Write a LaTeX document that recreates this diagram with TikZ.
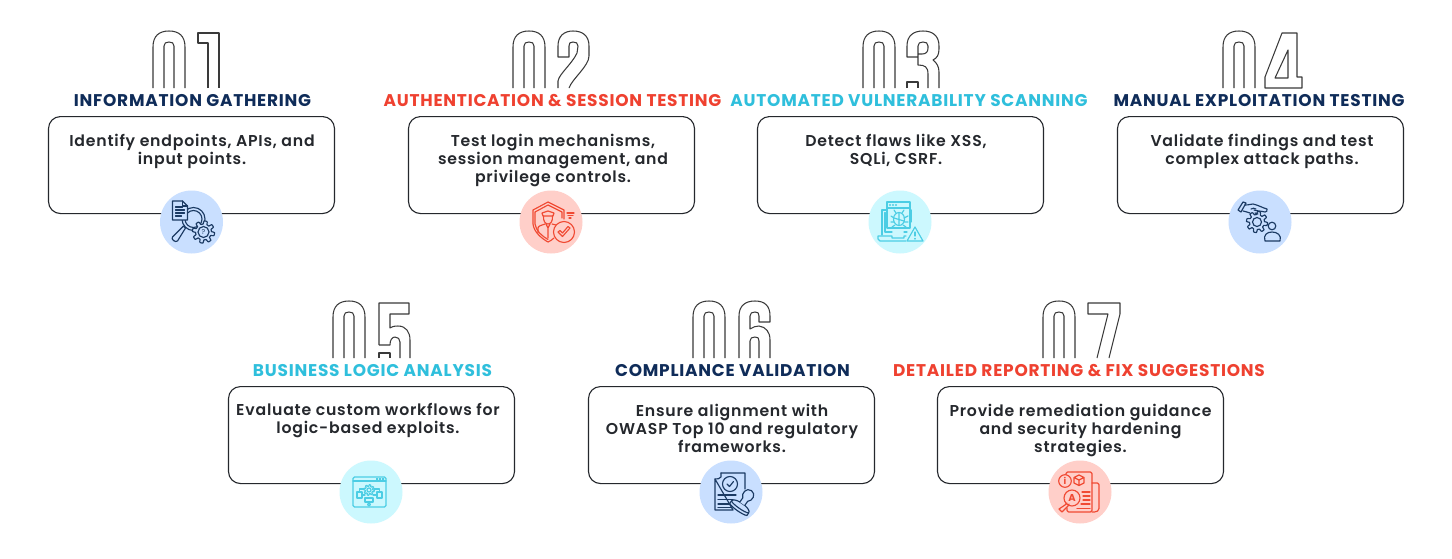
\documentclass[tikz,border=0pt]{standalone}
\usepackage{fontspec}
\setmainfont{Poppins}
\newfontfamily\headf{Poppins}[UprightFont=* Bold,LetterSpace=4.5]
\newfontfamily\bodyf{Poppins}[UprightFont=* SemiBold,LetterSpace=5]
\definecolor{navy}{HTML}{0F2C59}
\definecolor{redh}{HTML}{EF4130}
\definecolor{cyanh}{HTML}{2FBFDC}
\definecolor{bodyc}{HTML}{25282D}
\definecolor{cblue}{HTML}{C9DFFF}
\definecolor{cred}{HTML}{FFCFC9}
\definecolor{ccyan}{HTML}{CCF8FE}
\definecolor{inavy}{HTML}{1B3A63}
\definecolor{ired}{HTML}{F04A33}
\definecolor{icyan}{HTML}{4CCDE4}
\definecolor{numc}{HTML}{3A3A3A}
\tikzset{
  cardbox/.style={draw=bodyc,line width=1.1pt,fill=white,rounded corners=12pt,minimum width=286pt,minimum height=97pt,inner sep=0pt},
  headtext/.style={font=\headf\fontsize{16.95}{18}\selectfont,inner sep=0pt,anchor=base},
  bodytext/.style={font=\bodyf\fontsize{15.7}{18}\selectfont,text=bodyc,align=center,inner sep=0pt,anchor=north},
  badge/.style={circle,minimum size=63pt,inner sep=0pt},
  numline/.style={draw=numc,line width=1.05pt,line join=round},
  iconline/.style={line width=1.15pt,line join=round,line cap=round}
}
% digits: local origin = left end, top of the digit
\newcommand{\dzero}[2]{\begin{scope}[shift={(#1,#2)}]
 \draw[numline] (0,57)--(0,16) .. controls (0,5) and (6,0) .. (16,0) .. controls (26,0) and (32,5) .. (32,16)--(32,57);
 \draw[numline] (11,57)--(11,15) .. controls (11,12) and (13,11) .. (16,11) .. controls (19,11) and (21,12) .. (21,15)--(21,57);
\end{scope}}
\newcommand{\done}[2]{\begin{scope}[shift={(#1,#2)}]
 \draw[numline] (10,57)--(10,12)--(0,12)--(0,2)--(21,2)--(21,57);
\end{scope}}
\newcommand{\dtwo}[2]{\begin{scope}[shift={(#1,#2)}]
 \draw[numline] (0,57)--(0,50) .. controls (1,43) and (14,33) .. (19,22)--(20,15) .. controls (20,12) and (18,11) .. (15,11) .. controls (12,11) and (11,12) .. (11,15)--(11,26)--(0,26)--(0,15) .. controls (0,5) and (6,0) .. (15,0) .. controls (25,0) and (31,5) .. (31,15)--(31,25) .. controls (31,35) and (14,48) .. (11,57);
\end{scope}}
\newcommand{\dthree}[2]{\begin{scope}[shift={(#1,#2)}]
 \draw[numline] (0,57)--(0,51)--(11,51)--(11,57);
 \draw[numline] (21,57)--(21,43) .. controls (21,36) and (18,34) .. (11,34)--(11,23)--(15,23) .. controls (19,23) and (21,21) .. (21,17)--(21,15) .. controls (21,12) and (19,11) .. (16,11) .. controls (13,11) and (11,12) .. (11,15)--(11,26)--(0,26)--(0,15) .. controls (0,5) and (6,0) .. (16,0) .. controls (26,0) and (32,5) .. (32,15)--(32,18) .. controls (32,24) and (30,27) .. (26,29) .. controls (30,32) and (32,36) .. (32,41)--(32,57);
\end{scope}}
\newcommand{\dfour}[2]{\begin{scope}[shift={(#1,#2)}]
 \draw[numline] (1,57)--(1,46)--(18,2)--(33,2)--(33,46)--(38,46)--(38,57)--cycle;
 \draw[numline] (24,19)--(11,47)--(24,47)--cycle;
\end{scope}}
\newcommand{\dfive}[2]{\begin{scope}[shift={(#1,#2)}]
 \draw[numline] (0,57)--(0,52)--(11,52)--(11,57);
 \draw[numline] (0,44)--(0,2)--(30,2)--(30,13)--(11,13)--(11,27) .. controls (14,25) and (17,25) .. (19,25) .. controls (27,25) and (31,31) .. (31,39)--(31,57);
 \draw[numline] (21,57)--(21,41) .. controls (21,38) and (19,36) .. (16,36) .. controls (13,36) and (11,39) .. (11,44)--(0,44);
\end{scope}}
\newcommand{\dsix}[2]{\begin{scope}[shift={(#1,#2)}]
 \draw[numline] (0,57)--(0,15) .. controls (0,5) and (6,0) .. (16,0) .. controls (26,0) and (31,5) .. (31,15)--(31,21)--(20,21)--(20,15) .. controls (20,12) and (19,11) .. (16,11) .. controls (13,11) and (11,12) .. (11,15)--(11,28) .. controls (14,26) and (17,25) .. (20,25) .. controls (27,26) and (31,31) .. (31,39)--(31,57);
 \draw[numline] (11,57)--(11,40) .. controls (11,37) and (13,36) .. (16,36) .. controls (19,36) and (20,37) .. (20,40)--(20,57);
\end{scope}}
\newcommand{\dseven}[2]{\begin{scope}[shift={(#1,#2)}]
 \draw[numline] (9,57)--(20,13)--(0,13)--(0,2)--(32,2)--(32,13)--(21,57);
\end{scope}}
% gear outline
\newcommand{\gearpath}[4]{\draw[iconline,#4] plot[domain=0:360,samples=121] ({#1+(#3*(1+0.17*max(-1,min(1,2.5*sin(8*\x)))))*cos(\x)},{#2+(#3*(1+0.17*max(-1,min(1,2.5*sin(8*\x)))))*sin(\x)})--cycle;}
% icons
\newcommand{\iconone}[2]{\begin{scope}[shift={(#1,#2)}]
 \draw[iconline,inavy] (2,-3) circle (11.5);
 \draw[iconline,inavy] (2,-3) circle (8.5);
 \draw[iconline,inavy,fill=cblue] (-19,-21)--(-9,-21)--(-4,-16)--(-4,-2)--(-19,-2)--cycle;
 \draw[iconline,inavy] (-9,-21)--(-9,-16)--(-4,-16);
 \draw[iconline,inavy,line width=1.3pt] (-16,-15)--(-9,-15) (-16,-12)--(-7,-12) (-16,-9)--(-7,-9) (-16,-6)--(-10,-6);
 \draw[iconline,inavy,fill=cblue] (-6,6)--(-8,4)--(-19,15) .. controls (-21,17) and (-16,21) .. (-14,19)--cycle;
 \gearpath{12}{10}{9.5}{inavy,fill=cblue}
 \draw[iconline,inavy] (12,10) circle (5.5);
 \node[text=inavy,font=\fontsize{7}{7}\selectfont,inner sep=0pt] (qm) at (12,10) {?};
\end{scope}}
\newcommand{\icontwo}[2]{\begin{scope}[shift={(#1,#2)}]
 \draw[iconline,ired] (3,16) .. controls (1,18) and (-1,19) .. (-3,20) .. controls (-10,16) and (-17,10) .. (-18,2)--(-18,-12)--(-3,-20)--(13,-12)--(13,-3);
 \draw[iconline,ired] (-3,17.5) .. controls (-9,14) and (-15,9) .. (-16,2)--(-16,-10)--(-3,-17)--(11,-10)--(11,-4);
 \draw[iconline,ired] (-9,-9)--(-3,-11)--(3,-9)--(2,-6)--(-8,-6)--cycle;
 \draw[iconline,ired] (-7.5,-6) .. controls (-8,0) and (-5,2) .. (-3,2) .. controls (-1,2) and (2,0) .. (1.5,-6);
 \draw[iconline,ired] (-13,11)--(-13,6) .. controls (-13,4) and (-9,3) .. (-6,2) (1,2)--(5,3);
 \draw[iconline,ired] (-5,2)--(-3,6)--(-1,2) (-3,6)--(-3,16);
 \draw[iconline,ired,fill=cred] (13,10) circle (10.5);
 \draw[iconline,ired] (7,10)--(11.5,14.5)--(19,6)--(17,4.5)--(11.5,11)--(9,8.5)--cycle;
 \draw[iconline,ired] (16,-9)--(23,-9) (17,-6.5)--(22,-6.5) (18,-4)--(20,-4);
\end{scope}}
\newcommand{\iconthree}[2]{\begin{scope}[shift={(#1,#2)}]
 \draw[iconline,icyan] (-13,-12)--(-18,-12)--(-18,13) (9,-12)--(11,-12)--(11,0);
 \draw[iconline,icyan] (-15,-9.5)--(-15,10)--(-8,10) (4,10)--(7,10);
 \draw[iconline,icyan] (-22,14)--(-8,14)--(-8,16)--(4,16)--(4,14)--(6,14) (-22,14)--(-22,17)--(-20,19)--(6,19);
 \draw[iconline,icyan,fill=ccyan] (-13,-20) rectangle (10,6);
 \draw[iconline,icyan] (-13,-14)--(10,-14);
 \fill[icyan] (-10,-17) circle (1.1) (-7,-17) circle (1.1) (-4,-17) circle (1.1);
 \draw[iconline,icyan] (-1,-3) ellipse (5.5 and 6.5);
 \draw[iconline,icyan] (-6,-4)--(4,-1) (-1,-9)--(-1,3.5) (-4,-9)--(-6,-12) (2,-9)--(4,-12) (-6,-4)--(-9,-6) (-6,0)--(-9,0) (-5,3)--(-8,5) (4,-4)--(8,-6) (4.5,0)--(8,0) (3,3)--(6,5);
 \draw[iconline,icyan,fill=ccyan] (15,5)--(23,19)--(7,19)--cycle;
 \draw[iconline,icyan] (15,10)--(15,14) (15,16.5)--(15,17);
\end{scope}}
\newcommand{\iconfour}[2]{\begin{scope}[shift={(#1,#2)}]
 \draw[iconline,inavy] (-22,-12)--(-17,-20)--(-14,-19)--(-19,-10)--cycle;
 \draw[iconline,inavy] (-15,-17) .. controls (-11,-17) and (-9,-18) .. (-7,-18) .. controls (-2,-17) and (3,-14) .. (7,-13) .. controls (8,-11) and (6,-10) .. (5,-10) .. controls (1,-11) and (-3,-11) .. (-6,-12);
 \draw[iconline,inavy] (-17,-11) .. controls (-14,-11) and (-12,-9) .. (-10,-9) (-5,-9)--(-2,-8) (-9,-13) .. controls (-7,-14) and (-6,-14) .. (-4,-13);
 \gearpath{-3}{0}{9}{inavy}
 \draw[iconline,inavy] (-3,0) circle (4.5);
 \draw[iconline,inavy] (12,4) circle (3.8);
 \draw[iconline,inavy] (5,19) .. controls (3,13) and (7,10) .. (12,10) .. controls (17,10) and (22,13) .. (20,19)--cycle;
\end{scope}}
\newcommand{\iconfive}[2]{\begin{scope}[shift={(#1,#2)}]
 \draw[iconline,icyan,rounded corners=1.5pt,line width=1.3pt] (-18,-15) rectangle (15,15);
 \draw[iconline,icyan] (-18,-11)--(15,-11);
 \fill[icyan] (5,-13.9) rectangle (7,-12) (8,-13.9) rectangle (10,-12) (11,-13.9) rectangle (13,-12);
 \gearpath{-2}{-2}{4.5}{icyan}
 \draw[iconline,icyan] (-2,-2) circle (2);
 \draw[iconline,icyan] (-14,0) rectangle (-9,6) (6,0) rectangle (11,6) (-6,6) rectangle (2,10);
 \draw[iconline,icyan] (-11.5,0)--(-11.5,-3)--(-7,-3) (3,-3)--(8.5,-3)--(8.5,0) (-9,3)--(-6,3) (2,3)--(6,3) (-2,10)--(-2,11);
 \draw[iconline,icyan] (-2,11)--(-0.5,12.5)--(-2,14)--(-3.5,12.5)--cycle;
\end{scope}}
\newcommand{\iconsix}[2]{\begin{scope}[shift={(#1,#2)}]
 \draw[iconline,inavy] (-10,-19)--(14,-19)--(14,-3) (2,18)--(-16,18)--(-16,-13)--cycle;
 \draw[iconline,inavy] (-10,-19)--(-10,-15) .. controls (-11,-13) and (-14,-13) .. (-16,-13);
 \draw[iconline,inavy] (-1,-8) circle (7.5);
 \draw[iconline,inavy] (-4,-8)--(-1.5,-5.5)--(2.5,-10.5);
 \draw[iconline,inavy,line width=1.3pt] (-13,3)--(5,3) (-13,7.5)--(2,7.5) (-13,12)--(0,12) (-13,15.5)--(0,15.5);
 \begin{scope}[shift={(9,15)},rotate=-35]
  \draw[iconline,inavy,fill=cblue] (-10.5,3)--(-10.5,0) .. controls (-10.5,-2.5) and (-7,-3.5) .. (-3.5,-4)--(3.5,-4) .. controls (7,-3.5) and (10.5,-2.5) .. (10.5,0)--(10.5,3) .. controls (7,5) and (-7,5) .. (-10.5,3)--cycle;
  \draw[iconline,inavy] (-10.5,0) .. controls (-7,2) and (7,2) .. (10.5,0);
  \draw[iconline,inavy,fill=cblue] (-3,-4)--(-3,-9) .. controls (-7,-12) and (-6,-20) .. (0,-20) .. controls (6,-20) and (7,-12) .. (3,-9)--(3,-4);
 \end{scope}
\end{scope}}
\newcommand{\iconseven}[2]{\begin{scope}[shift={(#1,#2)}]
 \draw[iconline,ired,rounded corners=1.5pt] (-14,-15)--(-14,-20)--(12,-20)--(12,20)--(-13,20)--(-13,16);
 \draw[iconline,ired,rounded corners=1.5pt] (12,-9)--(19,-9)--(19,18)--(16,20)--(12,20);
 \draw[iconline,ired,fill=cred] (-15,-11) circle (6.3);
 \node[text=ired,font=\bfseries\fontsize{9}{9}\selectfont,inner sep=0pt] (infoi) at (-15,-11) {i};
 \draw[iconline,ired] (-1,-17)--(4,-14.5)--(4,-9)--(-1,-6.5)--(-6,-9)--(-6,-14.5)--cycle (-6,-14.5)--(-1,-12)--(4,-14.5) (-1,-12)--(-1,-6.5);
 \draw[iconline,ired] (2,0)--(10,0) (3,4)--(10,4) (3,8)--(10,8) (1,12)--(10,12) (-3,16.5)--(10,16.5);
 \draw[iconline,ired,fill=cred] (-8,6) circle (8);
 \node[text=ired,font=\bfseries\fontsize{10}{10}\selectfont,inner sep=0pt] (infoa) at (-8,6) {A};
 \draw[iconline,ired] (-13,11)--(-15,13)--(-21,17)--(-18,20)--(-12,14)--(-11,12);
\end{scope}}
% card: name, box centre x, top y, head colour, head x, heading, text x, body
\newcommand{\card}[8]{
 \node[cardbox,anchor=north] (box#1) at (#2,#3) {};
 \node[headtext,text=#4] (head#1) at (#5,#3-10) {#6};
 \node[bodytext] (body#1) at (#7,#3+17.5) {#8};
}
\begin{document}
\begin{tikzpicture}[x=1pt,y=-1pt]
\useasboundingbox (0,0) rectangle (1452,558);
\fill[white] (0,0) rectangle (1452,558);
\dzero{153}{31}\done{198}{31}
\dzero{513}{31}\dtwo{558}{31}
\dzero{863}{31}\dthree{907}{31}
\dzero{1223}{31}\dfour{1264}{31}
\dzero{333}{301}\dfive{379}{301}
\dzero{693}{301}\dsix{739}{301}
\dzero{1043}{301}\dseven{1088}{301}
\card{a}{191.5}{116}{navy}{192.5}{INFORMATION GATHERING}{192}{Identify endpoints, APIs, and\\input points.}
\card{b}{551.5}{116}{redh}{552.5}{AUTHENTICATION \& SESSION TESTING}{553}{Test login mechanisms,\\session management, and\\privilege controls.}
\card{c}{900.5}{116}{cyanh}{909}{AUTOMATED VULNERABILITY SCANNING}{896}{Detect flaws like XSS,\\SQLi, CSRF.}
\card{d}{1260.5}{116}{navy}{1259}{MANUAL EXPLOITATION TESTING}{1262}{Validate findings and test\\complex attack paths.}
\card{e}{371.5}{386}{cyanh}{372.5}{BUSINESS LOGIC ANALYSIS}{368}{Evaluate custom workflows for\\logic-based exploits.}
\card{f}{731.5}{386}{navy}{732.5}{COMPLIANCE VALIDATION}{732}{Ensure alignment with\\OWASP Top 10 and regulatory\\frameworks.}
\card{g}{1080.5}{386}{redh}{1079}{DETAILED REPORTING \& FIX SUGGESTIONS}{1080.5}{Provide remediation guidance\\and security hardening\\strategies.}
\node[badge,fill=cblue] (c1) at (191.5,222) {};
\node[badge,fill=cred] (c2) at (551,222) {};
\node[badge,fill=ccyan] (c3) at (900,222) {};
\node[badge,fill=cblue] (c4) at (1260,222) {};
\node[badge,fill=ccyan] (c5) at (371,492) {};
\node[badge,fill=cblue] (c6) at (731,492) {};
\node[badge,fill=cred] (c7) at (1080,492) {};
\iconone{191.5}{222}
\icontwo{551}{222}
\iconthree{900}{222}
\iconfour{1260}{222}
\iconfive{371}{492}
\iconsix{731}{492}
\iconseven{1080}{492}
\end{tikzpicture}
\end{document}
